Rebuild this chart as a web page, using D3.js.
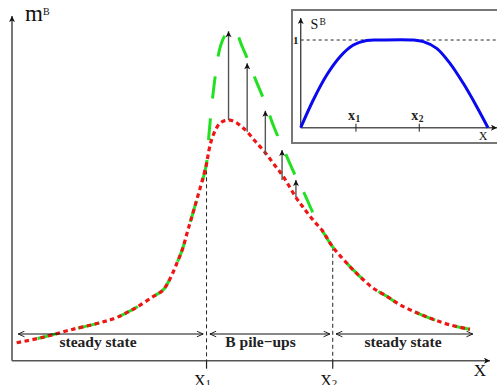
<!DOCTYPE html>
<html>
<head>
<meta charset="utf-8">
<script src="https://cdn.jsdelivr.net/npm/d3@7"></script>
<style>
  body { margin: 0; background: #fff; }
  svg text { font-family: "Liberation Serif", "Times New Roman", serif; }
</style>
</head>
<body>
<div id="chart"></div>
<script>
/* ---- data (arbitrary units) ---- */
var curveX = [1, 6.5, 12.1, 18.4, 22, 25.7, 29.5, 31.6, 33.1, 34.5, 35.6, 36.8, 38.2, 40.6, 41.2, 41.8, 42.7, 43.5, 44.6, 45.6, 46.9, 48.1, 49.2, 51, 52.9, 54.8, 56.7, 59.4, 60.9, 63, 65.1, 67, 70.7, 72.8, 75.5, 78.5, 81.2, 84.7, 88.1, 91.6, 95.8];
// steady-state profile (red, dotted)
var redY = [5.2, 6.8, 8.9, 11.0, 12.6, 15.2, 18.6, 20.5, 23.9, 28.3, 32.1, 37.9, 44.5, 56.5, 61, 64.3, 67.3, 68.9, 69.7, 69.8, 69.1, 67.8, 66.4, 63.5, 60.5, 57, 53.5, 47.4, 44.5, 40.8, 37.4, 33.2, 27.3, 24.4, 21.1, 18.6, 16.2, 13.9, 12.0, 10.4, 9.1];
// profile with B pile-ups (green, dashed)
var greenY = [5.2, 6.8, 8.9, 11.0, 12.6, 15.2, 18.6, 20.5, 23.9, 28.3, 32.1, 37.9, 44.5, 56.5, 65.5, 74.2, 84.3, 90.7, 94.5, 95.9, 95.1, 91.3, 87.8, 81.4, 75.0, 67.8, 61.7, 53.3, 49.3, 42.8, 37.3, 33.2, 27.3, 24.4, 21.1, 18.6, 16.2, 13.9, 12.0, 10.4, 9.1];
// pile-up arrows
var arrowX = [45.3, 49.2, 53.0, 56.5, 59.4];
var arrowFrom = [69.8, 66.4, 59.7, 52.4, 47.5];
var arrowTo = [95.6, 86.3, 72.5, 61.1, 52.4];
// region boundaries
var x1 = 40.7, x2 = 67.1;
var regions = [
  { from: 1.3, to: 40.0, label: "steady state", at: 18 },
  { from: 41.4, to: 66.5, label: "B pile\u2212ups", at: 52 },
  { from: 67.8, to: 96.4, label: "steady state", at: 81.8 }
];
// inset: S^B profile
var insetX = [0, 0.67, 1.39, 2.10, 2.81, 3.52, 4.23, 6.01, 6.55, 7.26, 7.97, 8.68, 9.40, 10.0];
var insetY = [0, 0.316, 0.601, 0.81, 0.943, 0.995, 1.0, 1.0, 0.981, 0.905, 0.734, 0.506, 0.24, 0];
var insetTicks = [{ v: 2.95, s: "1" }, { v: 6.33, s: "2" }];

var W = 497, H = 385;
var svg = d3.select("#chart").append("svg")
  .attr("width", W).attr("height", H);

var x = d3.scaleLinear().domain([0, 100]).range([12, 490]);
var y = d3.scaleLinear().domain([0, 100]).range([360.7, 16]);

function lerp(xs, ys, v) {
  var i = d3.bisectLeft(xs, v);
  if (i <= 0) return ys[0];
  if (i >= xs.length) return ys[ys.length - 1];
  var t = (v - xs[i - 1]) / (xs[i] - xs[i - 1]);
  return ys[i - 1] + t * (ys[i] - ys[i - 1]);
}

/* ---- markers ---- */
var defs = svg.append("defs");
defs.append("marker").attr("id", "solid")
  .attr("viewBox", "0 0 10 10").attr("refX", 10).attr("refY", 5)
  .attr("markerUnits", "userSpaceOnUse")
  .attr("markerWidth", 7).attr("markerHeight", 6).attr("orient", "auto")
  .append("path").attr("d", "M0,0L10,5L0,10L2.5,5Z").attr("fill", "#111");
defs.append("marker").attr("id", "open")
  .attr("viewBox", "0 0 10 10").attr("refX", 10).attr("refY", 5)
  .attr("markerUnits", "userSpaceOnUse")
  .attr("markerWidth", 8).attr("markerHeight", 7).attr("orient", "auto-start-reverse")
  .append("path").attr("d", "M1,1L10,5L1,9").attr("fill", "none")
  .attr("stroke", "#111").attr("stroke-width", 1.3);

/* ---- main axes ---- */
svg.append("line")
  .attr("x1", x(0)).attr("y1", y(0)).attr("x2", x(0)).attr("y2", y(100))
  .attr("stroke", "#555").attr("stroke-width", 1.6).attr("marker-end", "url(#solid)");
svg.append("line")
  .attr("x1", x(0)).attr("y1", y(0)).attr("x2", x(100)).attr("y2", y(0))
  .attr("stroke", "#555").attr("stroke-width", 1.6).attr("marker-end", "url(#solid)");

/* ---- x1 / x2 markers ---- */
[x1, x2].forEach(function(v, i) {
  svg.append("line")
    .attr("x1", x(v)).attr("x2", x(v))
    .attr("y1", y(lerp(curveX, redY, v))).attr("y2", y(0))
    .attr("stroke", "#222").attr("stroke-width", 1).attr("stroke-dasharray", "4,3");
  svg.append("line")
    .attr("x1", x(v)).attr("x2", x(v)).attr("y1", y(0)).attr("y2", y(0) + 8)
    .attr("stroke", "#222").attr("stroke-width", 1.2);
  svg.append("text").attr("x", x(v) - 1).attr("y", 386)
    .attr("text-anchor", "end").attr("font-size", 16).attr("fill", "#111").text("X");
  svg.append("text").attr("x", x(v) - 1).attr("y", 387)
    .attr("font-size", 11).attr("fill", "#111").text(String(i + 1));
});

/* ---- curves ---- */
var line = d3.line()
  .x(function(d) { return x(d[0]); })
  .y(function(d) { return y(d[1]); })
  .curve(d3.curveCatmullRom.alpha(0.5));

svg.append("path")
  .attr("d", line(d3.zip(curveX, greenY)))
  .attr("fill", "none").attr("stroke", "#22e022").attr("stroke-width", 3)
  .attr("stroke-dasharray", "22,20").attr("stroke-dashoffset", 21);
svg.append("path")
  .attr("d", line(d3.zip(curveX, redY)))
  .attr("fill", "none").attr("stroke", "#f01414").attr("stroke-width", 3.2)
  .attr("stroke-dasharray", "4.5,3.5");

/* ---- pile-up arrows ---- */
svg.selectAll(".pile").data(arrowX).enter().append("line")
  .attr("class", "pile")
  .attr("x1", function(d) { return x(d); })
  .attr("x2", function(d) { return x(d); })
  .attr("y1", function(d, i) { return y(arrowFrom[i]); })
  .attr("y2", function(d, i) { return y(arrowTo[i]); })
  .attr("stroke", "#555").attr("stroke-width", 1.4)
  .attr("marker-end", "url(#solid)");

/* ---- region arrows ---- */
var yr = 334;
regions.forEach(function(r) {
  svg.append("line")
    .attr("x1", x(r.from)).attr("x2", x(r.to)).attr("y1", yr).attr("y2", yr)
    .attr("stroke", "#111").attr("stroke-width", 1)
    .attr("marker-start", "url(#open)").attr("marker-end", "url(#open)");
  svg.append("text").attr("x", x(r.at)).attr("y", 347)
    .attr("text-anchor", "middle").attr("font-size", 15.5)
    .attr("font-weight", "bold").attr("fill", "#222").text(r.label);
});

/* ---- axis labels ---- */
svg.append("text").attr("x", 25).attr("y", 21).attr("font-size", 23)
  .attr("fill", "#111").text("m");
svg.append("text").attr("x", 43).attr("y", 14.5).attr("font-size", 10)
  .attr("fill", "#111").text("B");
svg.append("text").attr("x", 480).attr("y", 376).attr("text-anchor", "middle")
  .attr("font-size", 17).attr("fill", "#111").text("X");

/* ---- inset ---- */
var inset = svg.append("g");
inset.append("rect").attr("x", 292).attr("y", 10).attr("width", 220).attr("height", 133)
  .attr("fill", "#fff").attr("stroke", "#777").attr("stroke-width", 2);

var ix = d3.scaleLinear().domain([0, 10]).range([300.7, 488]);
var iy = d3.scaleLinear().domain([0, 1]).range([127.7, 40]);

inset.append("line").attr("x1", ix(0)).attr("x2", 497).attr("y1", iy(1)).attr("y2", iy(1))
  .attr("stroke", "#222").attr("stroke-width", 1).attr("stroke-dasharray", "3,3");
inset.append("line").attr("x1", ix(0)).attr("y1", iy(0)).attr("x2", ix(0)).attr("y2", 18)
  .attr("stroke", "#444").attr("stroke-width", 1.4).attr("marker-end", "url(#solid)");
inset.append("line").attr("x1", ix(0)).attr("y1", iy(0)).attr("x2", 497).attr("y2", iy(0))
  .attr("stroke", "#555").attr("stroke-width", 1.4).attr("marker-end", "url(#solid)");

insetTicks.forEach(function(t) {
  inset.append("line").attr("x1", ix(t.v)).attr("x2", ix(t.v))
    .attr("y1", iy(0) - 4).attr("y2", iy(0) + 4)
    .attr("stroke", "#222").attr("stroke-width", 1);
  inset.append("text").attr("x", ix(t.v) - 1).attr("y", 119.5)
    .attr("text-anchor", "end").attr("font-size", 14).attr("font-weight", "bold")
    .attr("fill", "#222").text("x");
  inset.append("text").attr("x", ix(t.v) - 0.5).attr("y", 121.5)
    .attr("font-size", 9.5).attr("font-weight", "bold")
    .attr("fill", "#222").text(t.s);
});

var iline = d3.line()
  .x(function(d) { return ix(d[0]); })
  .y(function(d) { return iy(d[1]); })
  .curve(d3.curveCatmullRom.alpha(0.5));
inset.append("path").attr("d", iline(d3.zip(insetX, insetY)))
  .attr("fill", "none").attr("stroke", "#0a0aee").attr("stroke-width", 3);

inset.append("text").attr("x", 298.5).attr("y", iy(1) + 4).attr("text-anchor", "end")
  .attr("font-size", 11).attr("font-weight", "bold").attr("fill", "#222").text("1");
inset.append("text").attr("x", 310.5).attr("y", 28.5).attr("font-size", 14)
  .attr("fill", "#111").text("S");
inset.append("text").attr("x", 319.5).attr("y", 25).attr("font-size", 9.5)
  .attr("fill", "#111").text("B");
inset.append("text").attr("x", 483).attr("y", 139.5).attr("text-anchor", "middle")
  .attr("font-size", 12).attr("fill", "#111").text("X");
</script>
</body>
</html>
